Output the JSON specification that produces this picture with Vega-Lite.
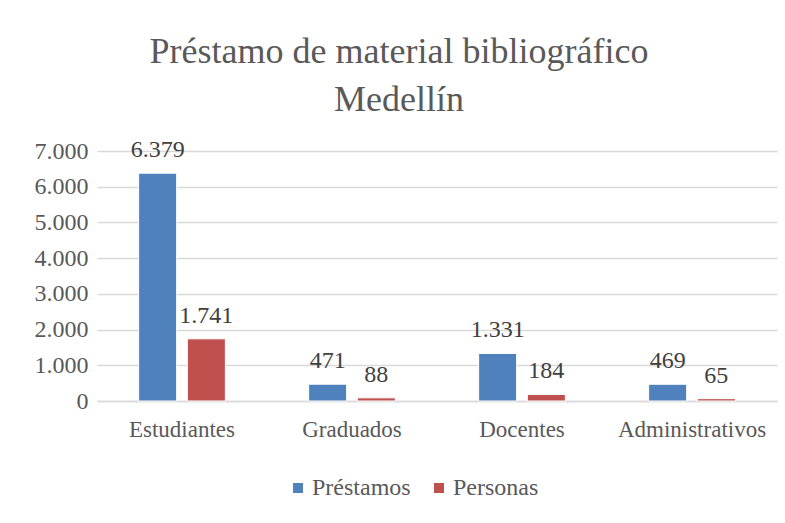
{
  "$schema": "https://vega.github.io/schema/vega-lite/v6.json",
  "width": 680,
  "height": 250,
  "autosize": {"type": "none"},
  "padding": {"left": 97, "top": 151, "right": 8, "bottom": 122},
  "background": "white",
  "config": {
    "locale": {"number": {"decimal": ",", "thousands": ".", "grouping": [3], "currency": ["$", ""]}},
    "view": {"stroke": null},
    "font": "Liberation Serif"
  },
  "title": {
    "text": ["Préstamo de material bibliográfico", "Medellín"],
    "fontSize": 36,
    "fontWeight": "normal",
    "color": "#595959",
    "font": "Liberation Serif",
    "lineHeight": 48,
    "anchor": "middle",
    "dx": -38,
    "offset": 19
  },
  "data": {
    "values": [
      {"categoria": "Estudiantes", "serie": "Préstamos", "valor": 6379},
      {"categoria": "Estudiantes", "serie": "Personas", "valor": 1741},
      {"categoria": "Graduados", "serie": "Préstamos", "valor": 471},
      {"categoria": "Graduados", "serie": "Personas", "valor": 88},
      {"categoria": "Docentes", "serie": "Préstamos", "valor": 1331},
      {"categoria": "Docentes", "serie": "Personas", "valor": 184},
      {"categoria": "Administrativos", "serie": "Préstamos", "valor": 469},
      {"categoria": "Administrativos", "serie": "Personas", "valor": 65}
    ]
  },
  "encoding": {
    "x": {
      "field": "categoria",
      "type": "nominal",
      "sort": ["Estudiantes", "Graduados", "Docentes", "Administrativos"],
      "scale": {"paddingInner": 0.49, "paddingOuter": 0.245},
      "axis": {
        "title": null,
        "labelAngle": 0,
        "labelFontSize": 23,
        "labelColor": "#595959",
        "labelPadding": 17,
        "ticks": false,
        "domainColor": "#d9d9d9",
        "domainWidth": 1.5
      }
    },
    "xOffset": {
      "field": "serie",
      "type": "nominal",
      "sort": ["Préstamos", "Personas"],
      "scale": {"paddingInner": 0.22, "paddingOuter": 0}
    },
    "y": {
      "field": "valor",
      "type": "quantitative",
      "scale": {"domain": [0, 7000], "nice": false},
      "axis": {
        "title": null,
        "values": [0, 1000, 2000, 3000, 4000, 5000, 6000, 7000],
        "labelOverlap": false,
        "format": ",d",
        "labelFontSize": 24,
        "labelColor": "#595959",
        "labelPadding": 9,
        "ticks": false,
        "domain": false,
        "gridColor": "#d9d9d9",
        "gridWidth": 1.5
      }
    },
    "color": {
      "field": "serie",
      "type": "nominal",
      "sort": ["Préstamos", "Personas"],
      "scale": {"domain": ["Préstamos", "Personas"], "range": ["#4f81bd", "#c0504d"]},
      "legend": {
        "title": null,
        "orient": "none",
        "direction": "horizontal",
        "legendX": 189,
        "legendY": 325,
        "symbolType": "square",
        "symbolSize": 100,
        "symbolStrokeWidth": 0,
        "labelFontSize": 24,
        "labelColor": "#595959",
        "labelOffset": 2,
        "columnPadding": 16
      }
    }
  },
  "layer": [
    {"mark": {"type": "bar", "stroke": "white", "strokeWidth": 1}},
    {
      "mark": {"type": "text", "baseline": "alphabetic", "dy": -16, "fontSize": 24, "color": "#404040"},
      "encoding": {
        "text": {"field": "valor", "type": "quantitative", "format": ",d"},
        "color": {"value": "#404040"}
      }
    }
  ]
}
